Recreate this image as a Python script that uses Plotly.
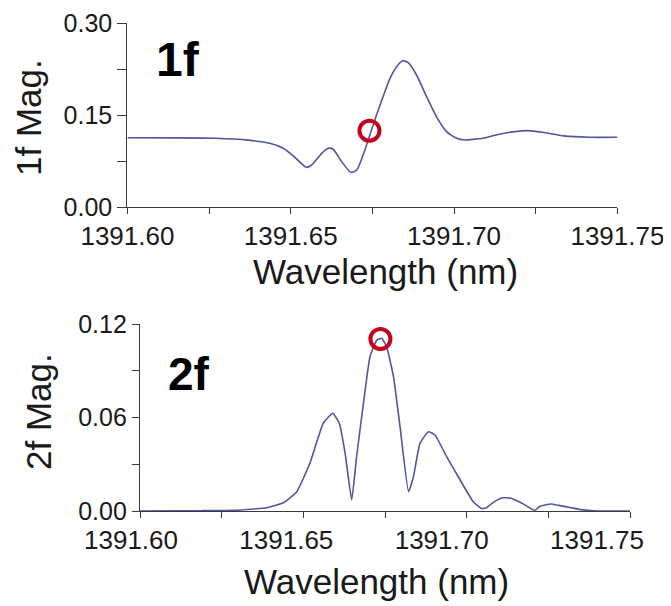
import plotly.graph_objects as go

# ---------------- data ----------------
wl_1f = [1391.600, 1391.614, 1391.627, 1391.637, 1391.6436, 1391.6477, 1391.6513,
         1391.6547, 1391.6564, 1391.6595, 1391.6615, 1391.6630, 1391.6656, 1391.6684,
         1391.6702, 1391.6727, 1391.6742, 1391.6768, 1391.6804, 1391.6824, 1391.6843,
         1391.6860, 1391.6885, 1391.6916, 1391.6946, 1391.6977, 1391.7008, 1391.7033,
         1391.7063, 1391.7089, 1391.7128, 1391.7180, 1391.7225, 1391.7271, 1391.7336,
         1391.7414, 1391.7500]
mag_1f = [0.1130, 0.1127, 0.1121, 0.1090, 0.1038, 0.0957, 0.0810,
          0.0647, 0.0685, 0.0875, 0.0957, 0.0941, 0.0739, 0.0566,
          0.0603, 0.0929, 0.1174, 0.1582, 0.2098, 0.2288, 0.2386,
          0.2353, 0.2152, 0.1799, 0.1473, 0.1228, 0.1120, 0.1092,
          0.1105, 0.1120, 0.1175, 0.1225, 0.1245, 0.1218, 0.1159,
          0.1137, 0.1137]

wl_2f = [1391.600, 1391.610, 1391.6184, 1391.6286, 1391.6337, 1391.6388, 1391.6439,
         1391.6480, 1391.6520, 1391.6561, 1391.6590, 1391.6610, 1391.6628, 1391.6648,
         1391.6663, 1391.6684, 1391.6704, 1391.6725, 1391.6740, 1391.6755, 1391.6776,
         1391.6796, 1391.6822, 1391.6837, 1391.6857, 1391.6883, 1391.6903, 1391.6939,
         1391.6980, 1391.7020, 1391.7045, 1391.7060, 1391.7085, 1391.7110, 1391.7135,
         1391.7172, 1391.7208, 1391.7225, 1391.7257, 1391.7283, 1391.7349, 1391.7400,
         1391.7500]
mag_2f = [0.0000, 0.0001, 0.0002, 0.0004, 0.0011, 0.0021, 0.0053,
          0.0124, 0.0306, 0.0563, 0.0627, 0.0563, 0.0370, 0.0071,
          0.0348, 0.0691, 0.0990, 0.1097, 0.1108, 0.1054, 0.0862,
          0.0541, 0.0124, 0.0220, 0.0434, 0.0509, 0.0488, 0.0348,
          0.0199, 0.0060, 0.0016, 0.0020, 0.0060, 0.0085, 0.0082,
          0.0047, 0.0004, 0.0030, 0.0045, 0.0036, 0.0009, 0.0000,
          0.0000]

mark_1f_x = [1391.6741]
mark_1f_y = [0.1244]
mark_2f_x = [1391.6736]
mark_2f_y = [0.1104]

x_tickvals = [1391.60, 1391.65, 1391.70, 1391.75]
x_ticktext = ["1391.60", "1391.65", "1391.70", "1391.75"]
x_minor = [1391.625, 1391.675, 1391.725]
y1_tickvals = [0.00, 0.15, 0.30]
y1_ticktext = ["0.00", "0.15", "0.30"]
y1_minor = [0.075, 0.225]
y2_tickvals = [0.00, 0.06, 0.12]
y2_ticktext = ["0.00", "0.06", "0.12"]
y2_minor = [0.03, 0.09]

x_title = "Wavelength (nm)"
y1_title = "1f Mag."
y2_title = "2f Mag."
label_1f = "1f"
label_2f = "2f"

# ---------------- style ----------------
OFF = 8                      # the page body's default margin
W, H = 671 - OFF, 606 - OFF
LINE = "#55559f"
RED = "#c4001a"
AX = "#3a3a3a"
TXT = "#1a1a1a"
SANS = "Liberation Sans, Arial, sans-serif"


def px_x(p):
    return (p - OFF) / W


def px_y(p):
    return 1 - (p - OFF) / H


fig = go.Figure()

fig.add_trace(go.Scatter(x=wl_1f, y=mag_1f, mode="lines", xaxis="x", yaxis="y",
                         line=dict(color=LINE, width=1.6, shape="spline", smoothing=0.6),
                         showlegend=False, hoverinfo="skip"))
fig.add_trace(go.Scatter(x=mark_1f_x, y=mark_1f_y, mode="markers", xaxis="x", yaxis="y",
                         marker=dict(symbol="circle-open", size=20, color=RED,
                                     line=dict(width=4, color=RED)),
                         showlegend=False, hoverinfo="skip"))

# invisible copy on the label axis of the lower panel (its tick labels sit slightly
# narrower than its ticks in the reference)
fig.add_trace(go.Scatter(x=wl_2f, y=mag_2f, mode="lines", xaxis="x3", yaxis="y2",
                         line=dict(color="rgba(0,0,0,0)", width=1), opacity=0,
                         showlegend=False, hoverinfo="skip"))
fig.add_trace(go.Scatter(x=wl_2f, y=mag_2f, mode="lines", xaxis="x2", yaxis="y2",
                         line=dict(color=LINE, width=1.6, shape="spline", smoothing=0.4),
                         showlegend=False, hoverinfo="skip"))
fig.add_trace(go.Scatter(x=mark_2f_x, y=mark_2f_y, mode="markers", xaxis="x2", yaxis="y2",
                         marker=dict(symbol="circle-open", size=20, color=RED,
                                     line=dict(width=4, color=RED)),
                         showlegend=False, hoverinfo="skip"))

# pixel geometry of the plot frames (reference image pixels)
top_x0, top_x1, top_y0, top_y1 = 127.4, 617.4, 23, 207
bot_x0, bot_x1, bot_y0, bot_y1 = 140, 630, 324, 511
# lower panel tick-label positions (1391.60 -> 131 px, 1391.75 -> 597 px)
lab_l, lab_r = 131, 597

tickfont_x = dict(family=SANS, size=26, color=TXT)
xcommon = dict(range=[1391.60, 1391.75], tickvals=x_tickvals, ticktext=x_ticktext,
               showline=True, linecolor=AX, linewidth=1.3, ticks="outside",
               ticklen=6, tickwidth=1.2, tickcolor=AX, showgrid=False, zeroline=False,
               automargin=False, tickfont=tickfont_x,
               minor=dict(tickvals=x_minor, ticks="outside",
                          ticklen=6, tickwidth=1.2, tickcolor=AX, showgrid=False))
ycommon = dict(showline=True, linecolor=AX, linewidth=1.3, ticks="outside",
               tickwidth=1.2, tickcolor=AX, showgrid=False, zeroline=False,
               automargin=False, tickfont=dict(family=SANS, size=25, color=TXT))

fig.update_layout(
    width=W, height=H,
    margin=dict(l=0, r=0, t=0, b=0, autoexpand=False),
    paper_bgcolor="white", plot_bgcolor="rgba(0,0,0,0)",
    xaxis=dict(domain=[px_x(top_x0), px_x(top_x1)], anchor="y", **xcommon),
    yaxis=dict(domain=[px_y(top_y1), px_y(top_y0)], anchor="x", range=[0, 0.30],
               tickvals=y1_tickvals, ticktext=y1_ticktext, ticklen=9,
               minor=dict(tickvals=y1_minor, ticks="outside", ticklen=9,
                          tickwidth=1.2, tickcolor=AX, showgrid=False),
               **ycommon),
    xaxis2=dict(domain=[px_x(bot_x0), px_x(bot_x1)], anchor="y2",
                **{**xcommon, "showticklabels": False}),
    yaxis2=dict(domain=[px_y(bot_y1), px_y(bot_y0)], anchor="x2", range=[0, 0.12],
                tickvals=y2_tickvals, ticktext=y2_ticktext, ticklen=7,
                minor=dict(tickvals=y2_minor, ticks="outside", ticklen=7,
                           tickwidth=1.2, tickcolor=AX, showgrid=False),
                **ycommon),
    xaxis3=dict(domain=[px_x(lab_l), px_x(lab_r)], anchor="y2", side="bottom",
                range=[1391.60, 1391.75], tickvals=x_tickvals, ticktext=x_ticktext,
                showline=False, showgrid=False, zeroline=False, ticks="outside",
                ticklen=6, tickcolor="rgba(0,0,0,0)", automargin=False,
                tickfont=tickfont_x),
)

ann = [
    dict(text=x_title, x=px_x(385), y=px_y(271), font=dict(family=SANS, size=35, color=TXT)),
    dict(text=x_title, x=px_x(376), y=px_y(581), font=dict(family=SANS, size=35, color=TXT)),
    dict(text=y1_title, x=px_x(28), y=px_y(118), textangle=-90,
         font=dict(family=SANS, size=35, color=TXT)),
    dict(text=y2_title, x=px_x(38), y=px_y(412), textangle=-90,
         font=dict(family=SANS, size=35, color=TXT)),
    dict(text="<b>" + label_1f + "</b>", x=px_x(178), y=px_y(60),
         font=dict(family=SANS, size=48, color="black")),
    dict(text="<b>" + label_2f + "</b>", x=px_x(189), y=px_y(374),
         font=dict(family=SANS, size=46, color="black")),
]
for a in ann:
    fig.add_annotation(xref="paper", yref="paper", showarrow=False,
                       xanchor="center", yanchor="middle", **a)

fig.write_html("out.html")
